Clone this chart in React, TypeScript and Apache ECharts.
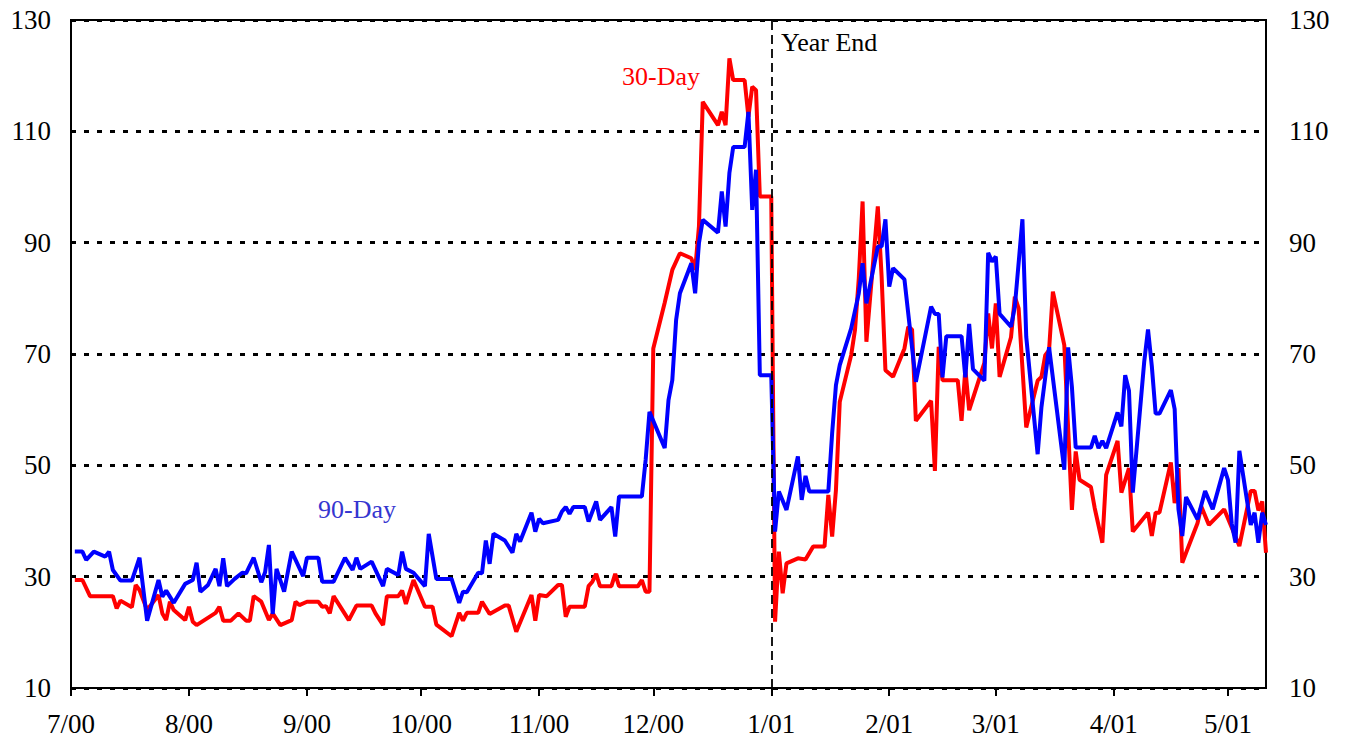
import React, { useEffect, useRef } from "react";
import * as echarts from "echarts";

const yTicks = { min: 10, max: 130, interval: 20 };
const xRange = { min: "2000-07-01", max: "2001-05-11" };
const yearEndDate = "2001-01-01";

const dates90 = [
  "2000-07-02","2000-07-04","2000-07-05","2000-07-07","2000-07-10","2000-07-11","2000-07-12","2000-07-14","2000-07-17","2000-07-19","2000-07-21","2000-07-24","2000-07-25","2000-07-26","2000-07-28","2000-07-31",
  "2000-08-02","2000-08-03","2000-08-04","2000-08-06","2000-08-08","2000-08-09","2000-08-10","2000-08-11","2000-08-13","2000-08-15","2000-08-16","2000-08-18","2000-08-20","2000-08-21","2000-08-22","2000-08-23","2000-08-24","2000-08-26","2000-08-28","2000-08-31",
  "2000-09-01","2000-09-04","2000-09-05","2000-09-08","2000-09-11","2000-09-13","2000-09-14","2000-09-15","2000-09-18","2000-09-21","2000-09-22","2000-09-25","2000-09-26","2000-09-27","2000-09-29",
  "2000-10-02","2000-10-03","2000-10-05","2000-10-09","2000-10-11","2000-10-12","2000-10-13","2000-10-16","2000-10-17","2000-10-18","2000-10-19","2000-10-20","2000-10-23","2000-10-25","2000-10-26","2000-10-27","2000-10-30","2000-10-31",
  "2000-11-01","2000-11-02","2000-11-06","2000-11-07","2000-11-08","2000-11-09","2000-11-10","2000-11-13","2000-11-14","2000-11-16","2000-11-17","2000-11-20","2000-11-21","2000-11-22","2000-11-28","2000-11-29","2000-11-30",
  "2000-12-04","2000-12-05","2000-12-06","2000-12-07","2000-12-08","2000-12-11","2000-12-12","2000-12-13","2000-12-14","2000-12-18","2000-12-19","2000-12-20","2000-12-21","2000-12-22","2000-12-25","2000-12-26","2000-12-27","2000-12-28","2000-12-29",
  "2001-01-01","2001-01-02","2001-01-03","2001-01-05","2001-01-08","2001-01-09","2001-01-10","2001-01-11","2001-01-16","2001-01-17","2001-01-18","2001-01-19","2001-01-22","2001-01-24","2001-01-25","2001-01-26","2001-01-29","2001-01-30","2001-01-31",
  "2001-02-01","2001-02-02","2001-02-05","2001-02-08","2001-02-12","2001-02-13","2001-02-14","2001-02-15","2001-02-16","2001-02-20","2001-02-21","2001-02-22","2001-02-23","2001-02-26","2001-02-27","2001-02-28",
  "2001-03-01","2001-03-02","2001-03-05","2001-03-06","2001-03-08","2001-03-09","2001-03-12","2001-03-13","2001-03-15","2001-03-19","2001-03-20","2001-03-21","2001-03-22","2001-03-26","2001-03-27","2001-03-28","2001-03-29","2001-03-30",
  "2001-04-02","2001-04-03","2001-04-04","2001-04-05","2001-04-06","2001-04-09","2001-04-10","2001-04-11","2001-04-12","2001-04-13","2001-04-16","2001-04-17","2001-04-18","2001-04-19","2001-04-20","2001-04-23","2001-04-25","2001-04-27","2001-04-30",
  "2001-05-01","2001-05-02","2001-05-03","2001-05-04","2001-05-07","2001-05-08","2001-05-09","2001-05-10","2001-05-11"
];
const values90 = [
  34.5,34.5,33.0,34.5,33.6,34.5,31.2,29.3,29.3,33.4,22.1,29.4,26.4,27.5,25.3,28.7,
  29.4,32.5,27.3,28.5,31.4,28.3,33.3,28.3,29.6,30.7,30.6,33.4,29.0,30.8,35.7,23.3,31.4,27.3,34.5,30.1,
  33.4,33.4,29.1,29.1,33.4,31.2,33.4,31.4,32.7,28.3,31.4,30.3,34.5,31.4,30.7,
  28.3,37.7,29.6,29.6,25.3,27.3,27.2,30.7,30.6,36.5,32.3,37.7,36.5,34.3,37.7,36.3,41.5,38.1,
  40.4,39.6,40.2,41.7,42.5,41.3,42.5,42.5,39.9,43.5,40.2,42.5,37.2,44.4,44.4,51.0,59.6,
  53.1,61.7,65.3,76.1,80.9,86.3,80.9,89.9,94.1,91.8,99.2,92.9,102.5,107.2,107.2,113.5,95.9,103.1,66.2,
  66.2,38.1,45.3,42.0,51.6,43.8,48.1,45.3,45.3,55.8,64.4,68.0,74.6,80.9,86.3,79.1,89.3,89.3,94.2,
  82.1,85.4,83.4,65.0,78.5,77.2,77.2,65.8,73.2,73.2,65.8,75.4,67.3,65.2,88.2,86.6,
  87.5,77.2,74.9,78.5,94.2,73.1,52.0,60.5,71.2,49.2,71.2,64.1,53.2,53.2,55.3,53.1,54.4,53.1,
  59.5,57.0,66.2,63.4,45.1,68.6,74.4,67.8,59.3,59.3,63.5,60.1,42.1,37.3,44.3,40.3,45.4,42.1,49.5,
  47.4,39.5,36.1,52.6,39.3,41.5,36.1,41.5,39.3
];

const dates30 = [
  "2000-07-02","2000-07-04","2000-07-06","2000-07-12","2000-07-13","2000-07-14","2000-07-17","2000-07-18","2000-07-19","2000-07-21","2000-07-24","2000-07-25","2000-07-26","2000-07-27","2000-07-28","2000-07-31",
  "2000-08-01","2000-08-02","2000-08-03","2000-08-08","2000-08-09","2000-08-10","2000-08-12","2000-08-14","2000-08-16","2000-08-17","2000-08-18","2000-08-20","2000-08-22","2000-08-23","2000-08-25","2000-08-28","2000-08-29","2000-08-30",
  "2000-09-01","2000-09-04","2000-09-05","2000-09-06","2000-09-07","2000-09-08","2000-09-12","2000-09-14","2000-09-18","2000-09-19","2000-09-21","2000-09-22","2000-09-25","2000-09-26","2000-09-27","2000-09-29",
  "2000-10-02","2000-10-04","2000-10-05","2000-10-09","2000-10-11","2000-10-12","2000-10-13","2000-10-16","2000-10-17","2000-10-19","2000-10-23","2000-10-24","2000-10-26","2000-10-30","2000-10-31",
  "2000-11-01","2000-11-03","2000-11-06","2000-11-07","2000-11-08","2000-11-09","2000-11-13","2000-11-14","2000-11-15","2000-11-16","2000-11-17","2000-11-20","2000-11-21","2000-11-22","2000-11-27","2000-11-28","2000-11-29","2000-11-30",
  "2000-12-01","2000-12-04","2000-12-06","2000-12-08","2000-12-11","2000-12-12","2000-12-13","2000-12-14","2000-12-18","2000-12-19","2000-12-20","2000-12-21","2000-12-22","2000-12-25","2000-12-26","2000-12-27","2000-12-28","2000-12-29",
  "2001-01-01","2001-01-02","2001-01-03","2001-01-04","2001-01-05","2001-01-08","2001-01-10","2001-01-12","2001-01-15","2001-01-16","2001-01-17","2001-01-18","2001-01-19","2001-01-22","2001-01-23","2001-01-24","2001-01-25","2001-01-26","2001-01-29","2001-01-30","2001-01-31",
  "2001-02-02","2001-02-05","2001-02-06","2001-02-07","2001-02-08","2001-02-12","2001-02-13","2001-02-14","2001-02-15","2001-02-19","2001-02-20","2001-02-21","2001-02-22","2001-02-26","2001-02-27","2001-02-28",
  "2001-03-01","2001-03-02","2001-03-05","2001-03-06","2001-03-07","2001-03-09","2001-03-12","2001-03-13","2001-03-14","2001-03-15","2001-03-16","2001-03-19","2001-03-21","2001-03-22","2001-03-23","2001-03-26","2001-03-27","2001-03-29","2001-03-30",
  "2001-04-02","2001-04-03","2001-04-05","2001-04-06","2001-04-10","2001-04-11","2001-04-12","2001-04-13","2001-04-16","2001-04-17","2001-04-18","2001-04-19","2001-04-20","2001-04-23","2001-04-24","2001-04-26","2001-04-30",
  "2001-05-04","2001-05-07","2001-05-08","2001-05-09","2001-05-10","2001-05-11"
];
const values30 = [
  29.4,29.4,26.5,26.5,24.3,25.7,24.5,28.5,27.6,24.0,26.7,23.4,22.2,25.5,24.0,22.2,
  24.6,21.9,21.3,23.5,24.6,22.1,22.1,23.4,22.1,22.1,26.5,25.5,22.2,23.4,21.3,22.2,25.5,24.9,
  25.5,25.5,24.6,24.7,23.4,26.5,22.2,24.8,24.8,23.4,21.3,26.5,26.5,27.5,25.1,29.4,
  24.6,24.6,21.4,19.3,23.5,22.1,23.5,23.5,25.5,23.3,24.8,24.8,20.1,26.7,22.1,
  26.7,26.5,28.5,28.5,22.8,24.6,24.6,28.3,29.1,30.5,28.3,28.3,30.5,28.3,28.3,29.4,27.3,27.3,
  71.0,79.2,85.1,88.1,87.2,85.1,92.9,115.3,111.1,113.5,111.1,123.1,119.2,119.2,112.6,118.0,117.4,98.3,
  98.3,21.9,34.5,27.0,32.4,33.3,33.1,35.4,35.4,44.7,37.2,45.6,61.4,69.8,74.3,83.6,97.4,72.2,96.5,83.9,67.1,
  65.9,71.0,74.9,74.4,58.0,61.6,49.0,71.3,65.3,65.3,58.0,67.3,59.9,68.4,77.3,71.0,
  79.1,65.9,73.0,80.3,78.2,56.8,65.2,65.9,69.8,70.7,81.2,71.6,42.0,52.5,47.4,46.1,42.3,36.1,48.3,
  54.4,45.1,49.5,38.1,41.5,37.3,41.5,41.5,50.5,43.2,49.5,32.5,34.3,39.6,42.6,39.3,42.1,
  35.5,45.4,45.4,41.9,43.5,34.3
];

const labels = { thirty: "30-Day", ninety: "90-Day", yearEnd: "Year End" };

const FONT = "'Liberation Serif', 'Times New Roman', serif";

function fmtMonth(v: number) {
  const d = new Date(v);
  return `${d.getMonth() + 1}/${String(d.getFullYear() % 100).padStart(2, "0")}`;
}

export default function App() {
  const ref = useRef<HTMLDivElement>(null);
  useEffect(() => {
    if (!ref.current) return;
    const chart = echarts.init(ref.current, undefined, { renderer: "svg" });
    const yAxisBase = {
      type: "value",
      min: yTicks.min,
      max: yTicks.max,
      interval: yTicks.interval,
      axisLine: { show: true, lineStyle: { color: "#000", width: 2 } },
      axisTick: { show: false },
    };
    chart.setOption({
      animation: false,
      backgroundColor: "#fff",
      grid: { left: 71, right: 81, top: 20, bottom: 54, show: true, borderColor: "#000", borderWidth: 2, backgroundColor: "transparent" },
      xAxis: {
        type: "time",
        min: xRange.min,
        max: xRange.max,
        splitNumber: 11,
        minInterval: 28 * 86400000,
        maxInterval: 31 * 86400000,
        axisLine: { lineStyle: { color: "#000", width: 2 } },
        axisTick: { show: true, length: 8, lineStyle: { color: "#000", width: 2 } },
        splitLine: { show: false },
        axisLabel: {
          formatter: (v: number) => fmtMonth(v),
          color: "#000",
          fontFamily: FONT,
          fontSize: 27,
          margin: 22,
          showMaxLabel: false,
        },
      },
      yAxis: [
        {
          ...yAxisBase,
          position: "left",
          splitLine: { show: true, lineStyle: { color: "#000", type: [5, 8], width: 3 } },
          axisLabel: { color: "#000", fontFamily: FONT, fontSize: 27, margin: 20 },
        },
        {
          ...yAxisBase,
          position: "right",
          splitLine: { show: false },
          axisLabel: { color: "#000", fontFamily: FONT, fontSize: 27, margin: 23 },
        },
      ],
      series: [
        {
          name: labels.thirty,
          type: "line",
          yAxisIndex: 0,
          showSymbol: false,
          symbol: "none",
          lineStyle: { color: "#ff0000", width: 4 },
          data: dates30.map((d, i) => [d, values30[i]]),
          markLine: {
            silent: true,
            symbol: ["none", "none"],
            label: { show: false },
            lineStyle: { color: "#000", type: [9, 5], width: 1.8 },
            data: [{ xAxis: yearEndDate }],
          },
        },
        {
          name: labels.ninety,
          type: "line",
          yAxisIndex: 0,
          showSymbol: false,
          symbol: "none",
          lineStyle: { color: "#0000ff", width: 4 },
          data: dates90.map((d, i) => [d, values90[i]]),
        },
      ],
      graphic: [
        { type: "text", left: 781, top: 29, style: { text: labels.yearEnd, fill: "#000", font: `26px ${FONT}` } },
        { type: "text", left: 622, top: 63, style: { text: labels.thirty, fill: "#ff0000", font: `26px ${FONT}` } },
        { type: "text", left: 318, top: 496, style: { text: labels.ninety, fill: "#3535d0", font: `26px ${FONT}` } },
      ],
    });
    return () => chart.dispose();
  }, []);
  return <div ref={ref} style={{ position: "absolute", left: 0, top: 0, width: 1347, height: 742 }} />;
}
